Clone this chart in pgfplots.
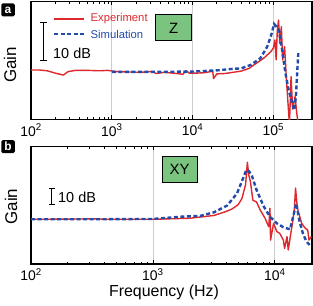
\documentclass[border=0pt]{standalone}
\usepackage{pgfplots}
\pgfplotsset{compat=1.18}
\usepackage{fontspec}
\setmainfont{Liberation Sans}
\usetikzlibrary{arrows.meta}
\definecolor{expred}{RGB}{222,40,45}
\definecolor{simblue}{RGB}{35,75,170}
\definecolor{boxgreen}{RGB}{122,196,128}
\begin{document}
\begin{tikzpicture}
\useasboundingbox (0bp,0bp) rectangle (313bp,306bp);
% ---------------- panel a (Z) ----------------
\begin{semilogxaxis}[scale only axis, width=281bp, height=118bp,
  at={(31bp,186.5bp)}, anchor=south west,
  xmin=100, xmax=301500, ymin=-12.69, ymax=17.56,
  ytick=\empty, axis line style={line width=1.3bp},
  every tick/.style={black, line width=0.8bp},
  major tick length=4bp, minor tick length=2.5bp,
  xmajorgrids, major grid style={gray!40, line width=0.7bp},
  xticklabel style={font=\fontsize{14}{14}\selectfont, anchor=north, yshift=-1bp},
  xtick={100,1000,10000,100000},
  xticklabels={10\textsuperscript{2},10\textsuperscript{3},10\textsuperscript{4},10\textsuperscript{5}}]
\addplot[expred, line width=1.4bp, line join=round] coordinates {
(100,0.0) (125.9,0.0) (158.5,-0.2) (199.5,-0.8) (251.2,-1.3) (288.4,-0.4)
(354.8,-0.1) (501.2,-0.1) (707.9,-0.2) (891.3,-0.1) (1122,-0.4) (1585,-0.5)
(2239,-0.6) (3162,-0.4) (3548,-0.9) (4467,-0.6) (6310,-0.9) (7586,-1.1)
(8318,-0.2) (9120,-0.8) (11220,-0.8) (14125,-0.7) (17783,-0.3) (18197,-2.2)
(19953,-1.0) (25119,-0.9) (31623,-0.6) (39811,-0.3) (50119,0.4) (57544,1.3)
(75858,3.0) (93325,4.7) (100000,5.6) (104713,7.7) (108393,2.6) (112202,10.3)
(116145,12.8) (120226,6.8) (125893,11.1) (130317,2.6) (138038,6.0) (144544,-1.7)
(158489,-14) (165959,-1.7) (173780,-10) (186209,-6.8) (194984,-11) (204174,-14)
};
\addplot[simblue, line width=2.4bp, dash pattern=on 4bp off 2.5bp] coordinates {
(1000,-0.5) (3162,-0.5) (10000,-0.4) (19953,-0.1) (31623,0.3) (39811,0.4)
(52481,1.3) (69183,3.0) (84140,6.0) (94406,9.0) (102329,11.8) (117490,10.3)
(128825,5.1) (141254,-0.8) (154882,-5.1) (173780,-9.0) (181970,-10.3)
(190546,-6.8) (199526,0.9) (204174,4.3)
};
\draw[line width=1bp, {Bar[width=6.5bp]}-{Bar[width=6.5bp]}] (axis cs:142,2.2) -- (axis cs:142,12.2);
\end{semilogxaxis}
% ---------------- panel b (XY) ----------------
\begin{semilogxaxis}[scale only axis, width=281bp, height=117.5bp,
  at={(31bp,42bp)}, anchor=south west,
  xmin=100, xmax=20184, ymin=-25.84, ymax=42.08,
  ytick=\empty, axis line style={line width=1.3bp},
  every tick/.style={black, line width=0.8bp},
  major tick length=4bp, minor tick length=2.5bp,
  xmajorgrids, major grid style={gray!40, line width=0.7bp},
  xticklabel style={font=\fontsize{14}{14}\selectfont, anchor=north, yshift=-1bp},
  xtick={100,1000,10000},
  xticklabels={10\textsuperscript{2},10\textsuperscript{3},10\textsuperscript{4}}]
\addplot[expred, line width=1.4bp, line join=round] coordinates {
(100,0) (199.5,0.1) (354.8,0.3) (398.1,0) (1000,0) (1995,0.6) (3162,2.2)
(3981,4.5) (4467,6) (5012,8.5) (5370,12) (5754,20) (5957,33) (6095,26)
(6310,21.7) (6607,11) (7079,10) (7586,5.4) (8318,0.6) (8913,-4.3) (9120,6.4)
(9226,-12) (9772,-2.3) (10375,-7.1) (10965,-8.1) (11749,-12) (12023,-16.8)
(12589,-10) (12882,-17.7) (13335,-11) (13804,-4.3) (14454,5.4) (14791,18)
(15311,6.4) (16596,-2.3) (17783,-5.2) (18621,-6.2) (19055,-12) (19953,-10)
};
\addplot[simblue, line width=2.4bp, dash pattern=on 4bp off 2.5bp] coordinates {
(100,0) (316.2,0) (1000,0.2) (1698,1.5) (2455,2.0) (3162,4.0) (4074,8.0)
(4898,15) (5495,23.7) (5754,27.5) (5957,28.5) (6095,28.0) (6457,25.6)
(7079,17) (8128,7.3) (9120,1.5) (10375,-2.3) (11749,-4.6) (13335,-5.8)
(14125,1.5) (14997,9.2) (15849,-0.4) (16982,-8.1) (18197,-13) (19953,-15.8)
};
\draw[line width=1bp, {Bar[width=5.5bp]}-{Bar[width=5.5bp]}] (axis cs:148.5,8) -- (axis cs:148.5,18);
\end{semilogxaxis}
% ---------------- annotations ----------------
\node[fill=black, text=white, rounded corners=1.5bp, minimum width=13.5bp, minimum height=13bp,
  inner sep=0pt, font=\bfseries\fontsize{12}{12}\selectfont] at (8bp,296bp) {a};
\node[fill=black, text=white, rounded corners=1.5bp, minimum width=13.5bp, minimum height=13bp,
  inner sep=0pt, font=\bfseries\fontsize{12}{12}\selectfont] at (8bp,159.3bp) {b};
\node[rotate=90, font=\fontsize{17}{17}\selectfont] at (10bp,241bp) {Gain};
\node[rotate=90, font=\fontsize{17}{17}\selectfont] at (11bp,99.3bp) {Gain};
\node[anchor=base, font=\fontsize{16}{16}\selectfont] at (164bp,9.3bp) {Frequency (Hz)};
\draw[expred, line width=1.4bp] (54bp,287bp) -- (84bp,287bp);
\node[anchor=west, text=expred, font=\fontsize{11.3}{12}\selectfont, inner sep=0pt] at (90.5bp,287bp) {Experiment};
\draw[simblue, line width=2.4bp, dash pattern=on 4bp off 2.5bp] (54bp,272bp) -- (84bp,272bp);
\node[anchor=west, text=simblue, font=\fontsize{11.3}{12}\selectfont, inner sep=0pt] at (90.5bp,272bp) {Simulation};
\node[anchor=west, inner sep=0pt, font=\fontsize{14.5}{15}\selectfont] at (53bp,252.5bp) {10 dB};
\node[anchor=west, inner sep=0pt, font=\fontsize{14.5}{15}\selectfont] at (58bp,108.5bp) {10 dB};
\node[draw=black, line width=1bp, fill=boxgreen, minimum width=36bp, minimum height=26bp,
  inner sep=0pt, font=\fontsize{15}{15}\selectfont] at (173.7bp,278bp) {Z};
\node[draw=black, line width=1bp, fill=boxgreen, minimum width=35bp, minimum height=25.5bp,
  inner sep=0pt, font=\fontsize{15}{15}\selectfont] at (179.5bp,136.7bp) {XY};
\end{tikzpicture}
\end{document}
